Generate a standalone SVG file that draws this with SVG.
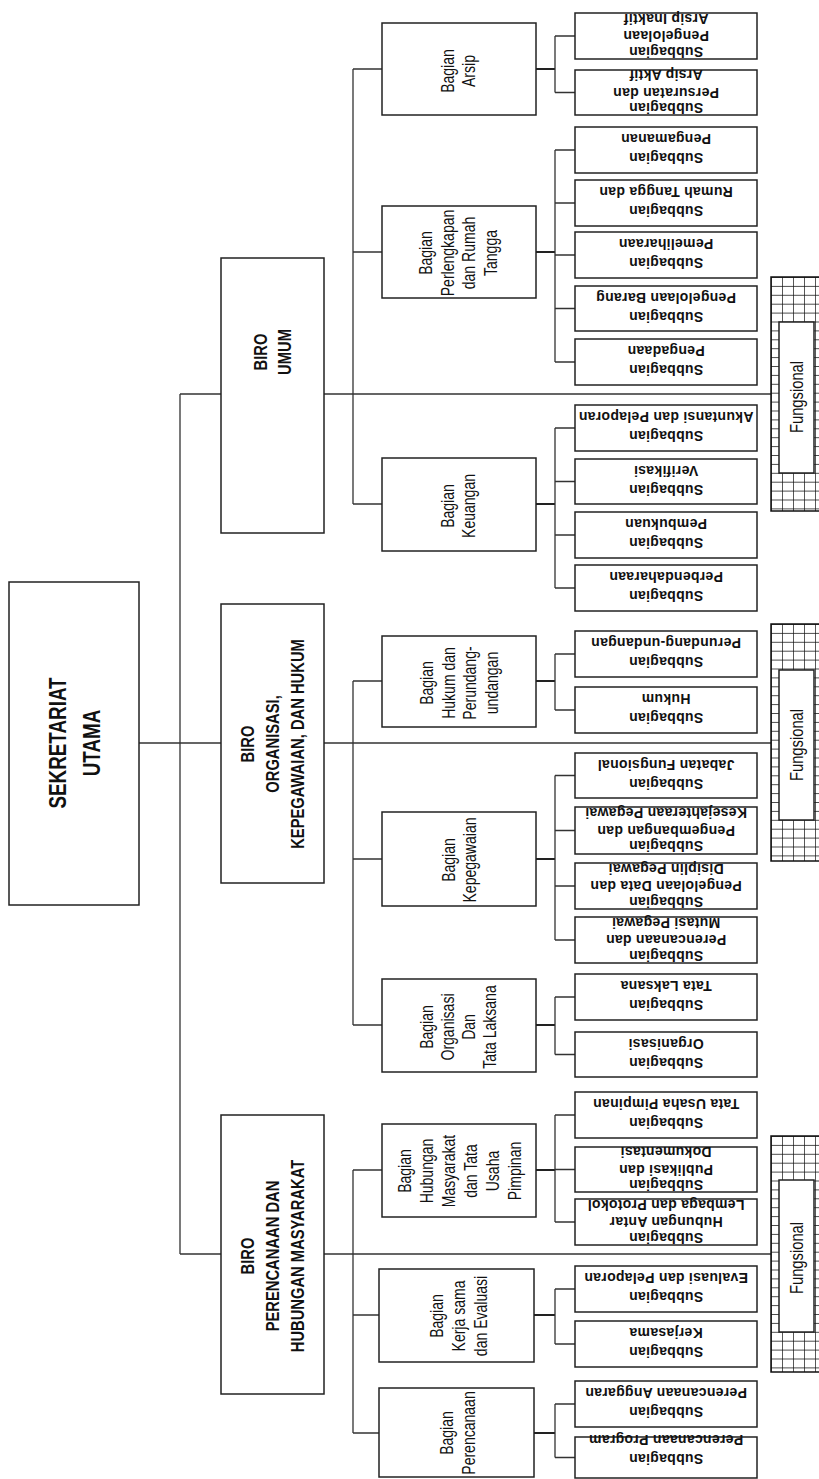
<svg xmlns="http://www.w3.org/2000/svg" width="819" height="1479" viewBox="0 0 819 1479">
<style>
.box{fill:#fff;stroke:#222;stroke-width:1.5}
.ln{stroke:#333;stroke-width:1.3;fill:none}
.lnb{stroke:#222;stroke-width:2;fill:none}
text{text-anchor:middle;dominant-baseline:central;fill:#111}
.tm{font-family:"Liberation Sans",Arial,sans-serif;font-weight:bold}
.tb{font-family:"Liberation Sans",Arial,sans-serif;font-size:18px}
.ts{font-family:"Liberation Sans",Arial,sans-serif;font-weight:bold;font-size:14px;letter-spacing:0.3px}
.tf{font-family:"Liberation Sans",Arial,sans-serif;font-size:18px}
.grid{fill:url(#grid);stroke:#111;stroke-width:1.5}
</style>
<defs>
<pattern id="grid" x="0" y="0" width="11" height="8.9" patternUnits="userSpaceOnUse">
<rect width="11" height="8.9" fill="#fff"/>
<path d="M0 0H11M0 0V8.9" stroke="#111" stroke-width="1.4"/>
</pattern>
</defs>

<g id="connectors">
<path class="ln" d="M139 743H180M180 394V1254M180 394H221M180 743H221M180 1254H221"/>
<path class="ln" d="M324 394H771M353 69V504M353 69H382M353 252H382M353 504H382"/>
<path class="ln" d="M324 743H771M353 681V1025M353 681H382M353 859H382M353 1025H382"/>
<path class="ln" d="M324 1254H771M353 1170V1433M353 1170H382M353 1315H379M353 1433H379"/>
<path class="lnb" d="M536 69H555M536 252H555M536 504H555M536 681H555M536 859H555M536 1025H555M536 1170H555M534 1315H555M534 1433H555"/>
<path class="ln" d="M555 36V92.5M555 150V362M555 428V588M555 654V710M555 775.5V940M555 997V1054.5M555 1115V1222M555 1289V1344M555 1404V1457.5"/>
<path class="ln" d="M555 36H575M555 92.5H575M555 150H575M555 203H575M555 255H575M555 308.5H575M555 362H575M555 428H575M555 481.5H575M555 535H575M555 588H575M555 654H575M555 710H575M555 775.5H575M555 830.5H575M555 886H575M555 940H575M555 997H575M555 1054.5H575M555 1115H575M555 1169.5H575M555 1222H575M555 1289H575M555 1344H575M555 1404H575M555 1457.5H575"/>
</g>

<g id="sekretariat-utama">
<rect class="box" x="9" y="582" width="130" height="323"/>
<text class="tm" font-size="23" transform="translate(74,743) rotate(-90) scale(0.82,1)"><tspan x="0" y="-17">SEKRETARIAT</tspan><tspan x="0" y="17">UTAMA</tspan></text>
</g>

<g id="biro-umum">
<rect class="box" x="221" y="258" width="103" height="275"/>
<text class="tm" font-size="18" transform="translate(272.5,352) rotate(-90) scale(0.82,1)"><tspan x="0" y="-12">BIRO</tspan><tspan x="0" y="12">UMUM</tspan></text>
</g>
<g id="biro-organisasi">
<rect class="box" x="221" y="604" width="103" height="279"/>
<text class="tm" font-size="18" transform="translate(272.5,744) rotate(-90) scale(0.82,1)"><tspan x="0" y="-25">BIRO</tspan><tspan x="0" y="0">ORGANISASI,</tspan><tspan x="0" y="25">KEPEGAWAIAN, DAN HUKUM</tspan></text>
</g>
<g id="biro-perencanaan">
<rect class="box" x="221" y="1115" width="103" height="279"/>
<text class="tm" font-size="18" transform="translate(272.5,1256) rotate(-90) scale(0.82,1)"><tspan x="0" y="-25">BIRO</tspan><tspan x="0" y="0">PERENCANAAN DAN</tspan><tspan x="0" y="25">HUBUNGAN MASYARAKAT</tspan></text>
</g>

<g id="bagian-arsip">
<rect class="box" x="382" y="23" width="154" height="92"/>
<text class="tb" transform="translate(458,71) rotate(-90) scale(0.78,1)"><tspan x="0" y="-10.5">Bagian</tspan><tspan x="0" y="10.5">Arsip</tspan></text>
</g>
<g id="bagian-perlengkapan">
<rect class="box" x="382" y="206" width="154" height="92"/>
<text class="tb" transform="translate(458,253) rotate(-90) scale(0.78,1)"><tspan x="0" y="-32.25">Bagian</tspan><tspan x="0" y="-10.75">Perlengkapan</tspan><tspan x="0" y="10.75">dan Rumah</tspan><tspan x="0" y="32.25">Tangga</tspan></text>
</g>
<g id="bagian-keuangan">
<rect class="box" x="382" y="458" width="154" height="93"/>
<text class="tb" transform="translate(458,506) rotate(-90) scale(0.78,1)"><tspan x="0" y="-10.5">Bagian</tspan><tspan x="0" y="10.5">Keuangan</tspan></text>
</g>
<g id="bagian-hukum">
<rect class="box" x="382" y="636" width="154" height="91"/>
<text class="tb" transform="translate(459,683) rotate(-90) scale(0.78,1)"><tspan x="0" y="-32.25">Bagian</tspan><tspan x="0" y="-10.75">Hukum dan</tspan><tspan x="0" y="10.75">Perundang-</tspan><tspan x="0" y="32.25">undangan</tspan></text>
</g>
<g id="bagian-kepegawaian">
<rect class="box" x="382" y="812" width="154" height="94"/>
<text class="tb" transform="translate(459,860) rotate(-90) scale(0.78,1)"><tspan x="0" y="-10.5">Bagian</tspan><tspan x="0" y="10.5">Kepegawaian</tspan></text>
</g>
<g id="bagian-organisasi">
<rect class="box" x="382" y="979" width="154" height="93"/>
<text class="tb" transform="translate(458,1027) rotate(-90) scale(0.78,1)"><tspan x="0" y="-31.5">Bagian</tspan><tspan x="0" y="-10.5">Organisasi</tspan><tspan x="0" y="10.5">Dan</tspan><tspan x="0" y="31.5">Tata Laksana</tspan></text>
</g>
<g id="bagian-humas">
<rect class="box" x="382" y="1124" width="154" height="93"/>
<text class="tb" transform="translate(459,1171) rotate(-90) scale(0.78,1)"><tspan x="0" y="-55">Bagian</tspan><tspan x="0" y="-33">Hubungan</tspan><tspan x="0" y="-11">Masyarakat</tspan><tspan x="0" y="11">dan Tata</tspan><tspan x="0" y="33">Usaha</tspan><tspan x="0" y="55">Pimpinan</tspan></text>
</g>
<g id="bagian-kerjasama">
<rect class="box" x="379" y="1269" width="155" height="93"/>
<text class="tb" transform="translate(458,1316) rotate(-90) scale(0.78,1)"><tspan x="0" y="-22">Bagian</tspan><tspan x="0" y="0">Kerja sama</tspan><tspan x="0" y="22">dan Evaluasi</tspan></text>
</g>
<g id="bagian-perencanaan">
<rect class="box" x="379" y="1388" width="155" height="89"/>
<text class="tb" transform="translate(457.5,1433) rotate(-90) scale(0.78,1)"><tspan x="0" y="-11">Bagian</tspan><tspan x="0" y="11">Perencanaan</tspan></text>
</g>

<g id="sub-arsip-inaktif"><rect class="box" x="575" y="13" width="182" height="46"/><text class="ts" transform="translate(666,36) rotate(180)"><tspan x="0" y="-15.5">Subbagian</tspan><tspan x="0" y="0">Pengelolaan</tspan><tspan x="0" y="17.5">Arsip Inaktif</tspan></text></g>
<g id="sub-persuratan"><rect class="box" x="575" y="70" width="182" height="45"/><text class="ts" transform="translate(666,92.5) rotate(180)"><tspan x="0" y="-15.5">Subbagian</tspan><tspan x="0" y="0">Persuratan dan</tspan><tspan x="0" y="17.5">Arsip Aktif</tspan></text></g>
<g id="sub-pengamanan"><rect class="box" x="575" y="127" width="182" height="46"/><text class="ts" transform="translate(666,150) rotate(180)"><tspan x="0" y="-8">Subbagian</tspan><tspan x="0" y="11">Pengamanan</tspan></text></g>
<g id="sub-rumah-tangga"><rect class="box" x="575" y="180" width="182" height="46"/><text class="ts" transform="translate(666,203) rotate(180)"><tspan x="0" y="-8">Subbagian</tspan><tspan x="0" y="11">Rumah Tangga dan</tspan></text></g>
<g id="sub-pemeliharaan"><rect class="box" x="575" y="232" width="182" height="46"/><text class="ts" transform="translate(666,255) rotate(180)"><tspan x="0" y="-8">Subbagian</tspan><tspan x="0" y="11">Pemeliharaan</tspan></text></g>
<g id="sub-pengelolaan-barang"><rect class="box" x="575" y="286" width="182" height="45"/><text class="ts" transform="translate(666,308.5) rotate(180)"><tspan x="0" y="-8">Subbagian</tspan><tspan x="0" y="11">Pengelolaan Barang</tspan></text></g>
<g id="sub-pengadaan"><rect class="box" x="575" y="339" width="182" height="46"/><text class="ts" transform="translate(666,362) rotate(180)"><tspan x="0" y="-8">Subbagian</tspan><tspan x="0" y="11">Pengadaan</tspan></text></g>
<g id="sub-akuntansi"><rect class="box" x="575" y="405" width="182" height="46"/><text class="ts" transform="translate(666,428) rotate(180)"><tspan x="0" y="-8">Subbagian</tspan><tspan x="0" y="11">Akuntansi dan Pelaporan</tspan></text></g>
<g id="sub-verifikasi"><rect class="box" x="575" y="459" width="182" height="45"/><text class="ts" transform="translate(666,481.5) rotate(180)"><tspan x="0" y="-8">Subbagian</tspan><tspan x="0" y="11">Verifikasi</tspan></text></g>
<g id="sub-pembukuan"><rect class="box" x="575" y="512" width="182" height="46"/><text class="ts" transform="translate(666,535) rotate(180)"><tspan x="0" y="-8">Subbagian</tspan><tspan x="0" y="11">Pembukuan</tspan></text></g>
<g id="sub-perbendaharaan"><rect class="box" x="575" y="565" width="182" height="46"/><text class="ts" transform="translate(666,588) rotate(180)"><tspan x="0" y="-8">Subbagian</tspan><tspan x="0" y="11">Perbendaharaan</tspan></text></g>
<g id="sub-perundangan"><rect class="box" x="575" y="631" width="182" height="46"/><text class="ts" transform="translate(666,654) rotate(180)"><tspan x="0" y="-8">Subbagian</tspan><tspan x="0" y="11">Perundang-undangan</tspan></text></g>
<g id="sub-hukum"><rect class="box" x="575" y="687" width="182" height="46"/><text class="ts" transform="translate(666,710) rotate(180)"><tspan x="0" y="-8">Subbagian</tspan><tspan x="0" y="11">Hukum</tspan></text></g>
<g id="sub-jabatan"><rect class="box" x="575" y="753" width="182" height="45"/><text class="ts" transform="translate(666,775.5) rotate(180)"><tspan x="0" y="-8">Subbagian</tspan><tspan x="0" y="11">Jabatan Fungsional</tspan></text></g>
<g id="sub-kesejahteraan"><rect class="box" x="575" y="807" width="182" height="47"/><text class="ts" transform="translate(666,830.5) rotate(180)"><tspan x="0" y="-15.5">Subbagian</tspan><tspan x="0" y="0">Pengembangan dan</tspan><tspan x="0" y="17.5">Kesejahteraan Pegawai</tspan></text></g>
<g id="sub-disiplin"><rect class="box" x="575" y="863" width="182" height="46"/><text class="ts" transform="translate(666,886) rotate(180)"><tspan x="0" y="-15.5">Subbagian</tspan><tspan x="0" y="0">Pengelolaan Data dan</tspan><tspan x="0" y="17.5">Disiplin Pegawai</tspan></text></g>
<g id="sub-mutasi"><rect class="box" x="575" y="917" width="182" height="46"/><text class="ts" transform="translate(666,940) rotate(180)"><tspan x="0" y="-15.5">Subbagian</tspan><tspan x="0" y="0">Perencanaan dan</tspan><tspan x="0" y="17.5">Mutasi Pegawai</tspan></text></g>
<g id="sub-tata-laksana"><rect class="box" x="575" y="974" width="182" height="46"/><text class="ts" transform="translate(666,997) rotate(180)"><tspan x="0" y="-8">Subbagian</tspan><tspan x="0" y="11">Tata Laksana</tspan></text></g>
<g id="sub-organisasi"><rect class="box" x="575" y="1032" width="182" height="45"/><text class="ts" transform="translate(666,1054.5) rotate(180)"><tspan x="0" y="-8">Subbagian</tspan><tspan x="0" y="11">Organisasi</tspan></text></g>
<g id="sub-tu-pimpinan"><rect class="box" x="575" y="1092" width="182" height="46"/><text class="ts" transform="translate(666,1115) rotate(180)"><tspan x="0" y="-8">Subbagian</tspan><tspan x="0" y="11">Tata Usaha Pimpinan</tspan></text></g>
<g id="sub-publikasi"><rect class="box" x="575" y="1147" width="182" height="45"/><text class="ts" transform="translate(666,1169.5) rotate(180)"><tspan x="0" y="-15.5">Subbagian</tspan><tspan x="0" y="0">Publikasi dan</tspan><tspan x="0" y="17.5">Dokumentasi</tspan></text></g>
<g id="sub-hubungan-antar"><rect class="box" x="575" y="1199" width="182" height="46"/><text class="ts" transform="translate(666,1222) rotate(180)"><tspan x="0" y="-15.5">Subbagian</tspan><tspan x="0" y="0">Hubungan Antar</tspan><tspan x="0" y="17.5">Lembaga dan Protokol</tspan></text></g>
<g id="sub-evaluasi"><rect class="box" x="575" y="1266" width="182" height="46"/><text class="ts" transform="translate(666,1289) rotate(180)"><tspan x="0" y="-8">Subbagian</tspan><tspan x="0" y="11">Evaluasi dan Pelaporan</tspan></text></g>
<g id="sub-kerjasama"><rect class="box" x="575" y="1321" width="182" height="46"/><text class="ts" transform="translate(666,1344) rotate(180)"><tspan x="0" y="-8">Subbagian</tspan><tspan x="0" y="11">Kerjasama</tspan></text></g>
<g id="sub-anggaran"><rect class="box" x="575" y="1381" width="182" height="46"/><text class="ts" transform="translate(666,1404) rotate(180)"><tspan x="0" y="-8">Subbagian</tspan><tspan x="0" y="11">Perencanaan Anggaran</tspan></text></g>
<g id="sub-program"><rect class="box" x="575" y="1437" width="182" height="41"/><text class="ts" transform="translate(666,1457.5) rotate(180)"><tspan x="0" y="-1">Subbagian</tspan><tspan x="0" y="17.5">Perencanaan Program</tspan></text></g>

<g id="fungsional-1" transform="translate(771,277)">
<rect class="grid" x="0" y="0" width="50" height="234"/>
<rect class="box" x="8" y="45" width="35" height="151"/>
<text class="tf" transform="translate(25,120) rotate(-90) scale(0.82,1)" x="0" y="0">Fungsional</text>
</g>
<g id="fungsional-2" transform="translate(771,624)">
<rect class="grid" x="0" y="0" width="50" height="237"/>
<rect class="box" x="8" y="46" width="35" height="150"/>
<text class="tf" transform="translate(25,121) rotate(-90) scale(0.82,1)" x="0" y="0">Fungsional</text>
</g>
<g id="fungsional-3" transform="translate(771,1136)">
<rect class="grid" x="0" y="0" width="50" height="236"/>
<rect class="box" x="8" y="44" width="35" height="152"/>
<text class="tf" transform="translate(25,122) rotate(-90) scale(0.82,1)" x="0" y="0">Fungsional</text>
</g>
</svg>
